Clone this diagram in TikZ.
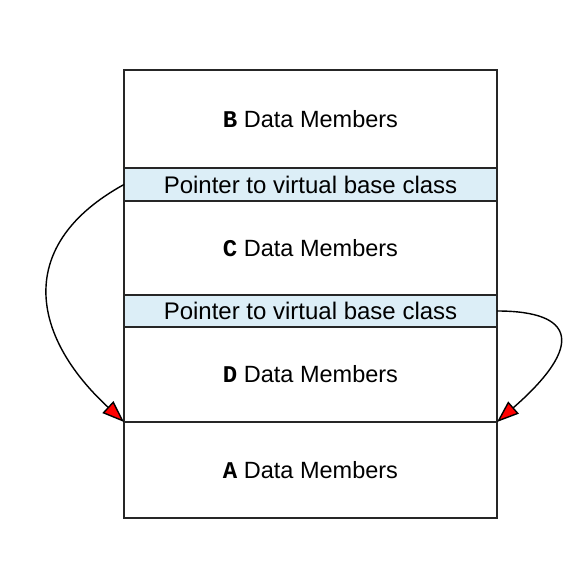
\documentclass[tikz,border=0pt]{standalone}
\usepackage{fontspec}
\setmainfont{Liberation Sans}
\newfontfamily\clsfont{Liberation Mono}
\usetikzlibrary{arrows.meta,positioning}
\definecolor{ptrblue}{HTML}{DCEEF7}
\tikzset{band/.style={draw=black!85,line width=1.6pt,minimum width=373pt,inner sep=0pt,outer sep=0pt,font=\fontsize{23.5}{27}\selectfont},
 ptr/.style={band,fill=ptrblue,font=\fontsize{24}{27}\selectfont},
 link/.style={-{Triangle[length=22pt,width=16pt,fill=red]},line width=1.4pt}}
\newcommand{\cls}[1]{{\clsfont\bfseries\fontsize{24}{24}\selectfont #1}}

\begin{document}
\begin{tikzpicture}[x=1pt,y=1pt]
 \useasboundingbox (0,0) rectangle (579,565);
 \node[band,minimum height=98pt] (bmem) at (310.5,446) {\cls{B} Data Members};
 \node[ptr,minimum height=33pt,below=0pt of bmem] (bptr) {Pointer to virtual base class};
 \node[band,minimum height=94pt,below=0pt of bptr] (cmem) {\cls{C} Data Members};
 \node[ptr,minimum height=32pt,below=0pt of cmem] (cptr) {Pointer to virtual base class};
 \node[band,minimum height=95pt,below=0pt of cptr] (dmem) {\cls{D} Data Members};
 \node[band,minimum height=96pt,below=0pt of dmem] (amem) {\cls{A} Data Members};
 \draw[link] (bptr.west) .. controls +(-109,-60) and +(-94,87) .. (dmem.south west);
 \draw[link] (cptr.east) .. controls +(78,0) and +(88,77) .. (dmem.south east);
\end{tikzpicture}
\end{document}
